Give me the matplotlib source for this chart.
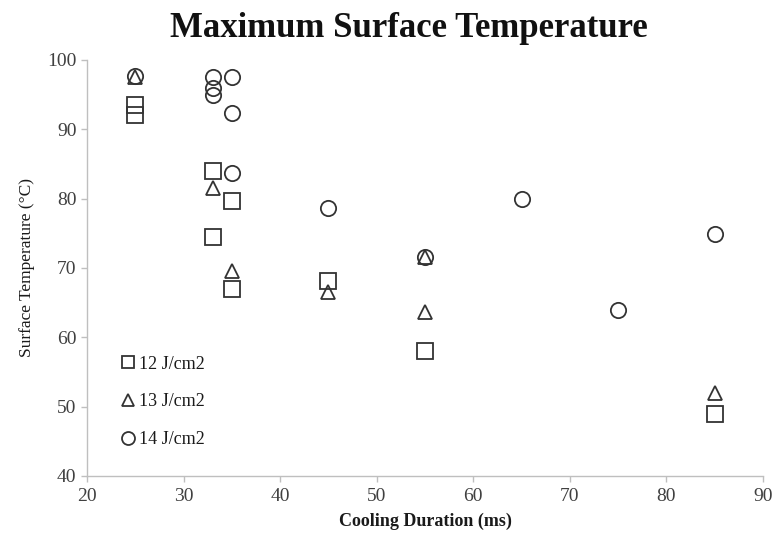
import matplotlib
matplotlib.use("Agg")
import matplotlib.pyplot as plt

# Data
x_12 = [25, 25, 33, 33, 35, 35, 45, 55, 85]
y_12 = [93.5, 92.0, 84.0, 74.5, 79.7, 67.0, 68.1, 58.0, 49.0]

x_13 = [25, 33, 35, 45, 55, 55, 85]
y_13 = [97.6, 81.5, 69.6, 66.5, 71.6, 63.6, 52.0]

x_14 = [25, 33, 33, 33, 35, 35, 35, 45, 55, 65, 75, 85]
y_14 = [97.7, 97.6, 96.0, 95.0, 97.6, 92.3, 83.7, 78.6, 71.6, 80.0, 63.9, 74.9]

labels = ["12 J/cm2", "13 J/cm2", "14 J/cm2"]
x_ticks = [20, 30, 40, 50, 60, 70, 80, 90]
y_ticks = [40, 50, 60, 70, 80, 90, 100]

plt.rcParams['font.family'] = ['Liberation Serif', 'DejaVu Serif']

fig = plt.figure(figsize=(7.76, 5.42), dpi=100)
ax = fig.add_axes([0.1121, 0.1218, 0.8711, 0.7675])

mc = '#333333'
common = dict(linestyle='none', markerfacecolor='none', markeredgecolor=mc,
              markersize=11, markeredgewidth=1.3)
ax.plot(x_12, y_12, marker='s', label=labels[0], **common)
ax.plot(x_13, y_13, marker='^', label=labels[1], **{**common, 'markersize': 10.5})
ax.plot(x_14, y_14, marker='o', label=labels[2], **common)

ax.set_xlim(20, 90)
ax.set_ylim(40, 100)
ax.set_xticks(x_ticks)
ax.set_yticks(y_ticks)

for s in ['top', 'right']:
    ax.spines[s].set_visible(False)
for s in ['left', 'bottom']:
    ax.spines[s].set_color('#bfbfbf')
    ax.spines[s].set_linewidth(1.0)
ax.tick_params(axis='both', colors='#bfbfbf', labelcolor='#404040',
               labelsize=14, length=4, width=1.0, direction='out')
ax.tick_params(axis='x', pad=5)

ax.set_xlabel("Cooling Duration (ms)", fontsize=13, fontweight='bold',
              color='#1a1a1a', labelpad=5)
ax.set_ylabel("Surface Temperature (°C)", fontsize=12.5, color='#1a1a1a',
              labelpad=9)

fig.text(0.527, 0.948, "Maximum Surface Temperature", ha='center', va='center',
         fontsize=25, fontweight='bold', color='#111111')

leg = ax.legend(loc='lower left', bbox_to_anchor=(0.023, 0.028), frameon=False,
                fontsize=13, handletextpad=0.1, labelspacing=1.15,
                markerscale=0.85, handlelength=1.0)
for t in leg.get_texts():
    t.set_color('#1a1a1a')

fig.savefig("out.png", dpi=100)
